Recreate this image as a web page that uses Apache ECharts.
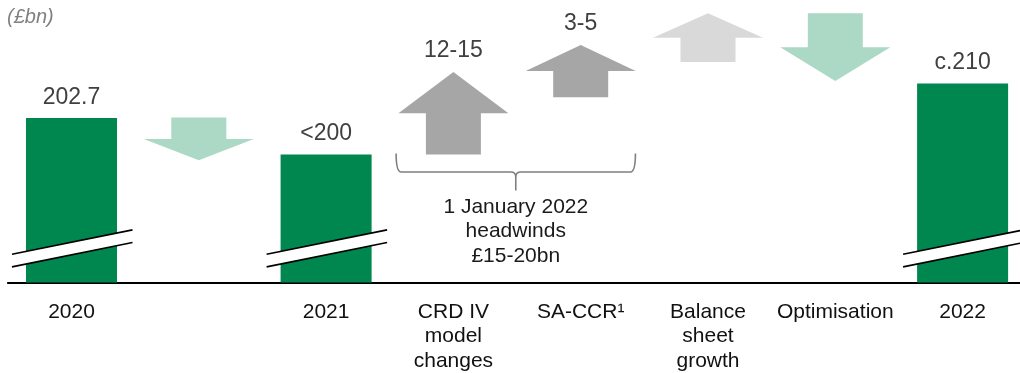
<!DOCTYPE html>
<html>
<head>
<meta charset="utf-8">
<script src="https://cdn.jsdelivr.net/npm/echarts@6/dist/echarts.min.js"></script>
<style>
  html, body { margin: 0; padding: 0; background: #ffffff; overflow: hidden; }
  #chart { width: 1030px; height: 373px; }
</style>
</head>
<body>
<div id="chart"></div>
<script>
// RWA bridge, £bn
const categories = ['2020', '', '2021', 'CRD IV\nmodel\nchanges', 'SA-CCR¹', 'Balance\nsheet\ngrowth', 'Optimisation', '2022'];
const totals = [202.7, null, 195, null, null, null, null, 210];
const totalLabels = ['202.7', '', '<200', '', '', '', '', 'c.210'];

// movements between totals: category index, start level, end level
const moveCats = [1, 3, 4, 5, 6];
const moveFrom = [202.8, 195.0, 207.1, 214.5, 224.8];
const moveTo = [193.8, 212.4, 218.1, 224.8, 210.5];
const moveLabels = ['', '12-15', '3-5', '', ''];

// broken-axis markers on the total bars
const breakCats = [0, 2, 7];
const breakLevel = 175.2;

// bracket over the 1 January 2022 items
const headwindCats = [3, 4];
const headwindLevel = 195.2;
const headwindText = '1 January 2022\nheadwinds\n£15-20bn';

// ---- styling ----
const FONT = '"Liberation Sans", Arial, sans-serif';
const GREEN = '#00874f';
const moveColors = ['#acd9c5', '#a6a6a6', '#a6a6a6', '#d9d9d9', '#acd9c5'];

const chart = echarts.init(document.getElementById('chart'), null, { renderer: 'canvas' });

function arrowItem(params, api) {
  const cat = api.value(0);
  const p0 = api.coord([cat, api.value(1)]);
  const p1 = api.coord([cat, api.value(2)]);
  const band = api.size([1, 0])[0];
  const headHalf = band * 0.432;
  const shaftHalf = band * 0.216;
  const cx = p0[0];
  const shoulder = p0[1] + (p1[1] - p0[1]) * 0.5;
  const pts = [
    [cx - shaftHalf, p0[1]], [cx + shaftHalf, p0[1]],
    [cx + shaftHalf, shoulder], [cx + headHalf, shoulder],
    [cx, p1[1]],
    [cx - headHalf, shoulder], [cx - shaftHalf, shoulder]
  ];
  const children = [{
    type: 'polygon',
    shape: { points: pts },
    style: { fill: moveColors[params.dataIndex] }
  }];
  const label = moveLabels[params.dataIndex];
  if (label) {
    children.push({
      type: 'text',
      x: cx,
      y: p1[1] - 21,
      style: {
        text: label, fill: '#404040', font: '23px ' + FONT,
        align: 'center', verticalAlign: 'middle'
      }
    });
  }
  return { type: 'group', children };
}

function breakItem(params, api) {
  const c = api.coord([api.value(0), api.value(1)]);
  const l = c[0] - 59.5, r = c[0] + 61;
  const rise = 12.2, gap = 6.3;
  const y = c[1];
  return {
    type: 'group',
    children: [
      {
        type: 'polygon',
        shape: { points: [[l, y + rise - gap], [r, y - rise - gap], [r, y - rise + gap], [l, y + rise + gap]] },
        style: { fill: '#ffffff' }
      },
      {
        type: 'line',
        shape: { x1: l, y1: y + rise - gap, x2: r, y2: y - rise - gap },
        style: { stroke: '#000000', lineWidth: 1.6 }
      },
      {
        type: 'line',
        shape: { x1: l, y1: y + rise + gap, x2: r, y2: y - rise + gap },
        style: { stroke: '#000000', lineWidth: 1.6 }
      }
    ]
  };
}

function bracketItem(params, api) {
  const a = api.coord([api.value(0), api.value(2)]);
  const b = api.coord([api.value(1), api.value(2)]);
  const band = api.size([1, 0])[0];
  const x0 = a[0] - band * 0.45;
  const x1 = b[0] + band * 0.43;
  const y0 = a[1];
  const yh = y0 + 18.5;
  const xm = (x0 + x1) / 2;
  const tip = yh + 18.5;
  const r = 5;
  const d =
    'M' + x0 + ' ' + y0 + ' Q' + x0 + ' ' + yh + ' ' + (x0 + r) + ' ' + yh +
    ' L' + (xm - r) + ' ' + yh + ' Q' + xm + ' ' + yh + ' ' + xm + ' ' + (yh + r) +
    ' L' + xm + ' ' + tip +
    ' M' + x1 + ' ' + y0 + ' Q' + x1 + ' ' + yh + ' ' + (x1 - r) + ' ' + yh +
    ' L' + (xm + r) + ' ' + yh + ' Q' + xm + ' ' + yh + ' ' + xm + ' ' + (yh + r);
  return {
    type: 'group',
    children: [
      {
        type: 'path',
        shape: { pathData: d },
        style: { stroke: '#7f7f7f', lineWidth: 1.6, fill: null }
      },
      {
        type: 'text',
        x: xm,
        y: tip + 4,
        style: {
          text: headwindText, fill: '#1a1a1a', font: '21px ' + FONT,
          align: 'center', verticalAlign: 'top', lineHeight: 24.5
        }
      }
    ]
  };
}

chart.setOption({
  animation: false,
  backgroundColor: '#ffffff',
  textStyle: { fontFamily: FONT },
  graphic: [{
    type: 'text', left: 7, top: 7,
    style: { text: '(£bn)', fill: '#808080', font: 'italic 20px ' + FONT }
  }],
  grid: { left: 7.85, top: 0, width: 1018.4, bottom: 87.5, containLabel: false },
  xAxis: {
    type: 'category',
    data: categories,
    axisLine: { show: true, lineStyle: { color: '#000000', width: 2 } },
    axisTick: { show: false },
    axisLabel: {
      interval: 0, margin: 17, color: '#111111',
      fontSize: 21, lineHeight: 24.5, fontFamily: FONT
    },
    splitLine: { show: false }
  },
  yAxis: {
    type: 'value', min: 168, max: 227.6, show: false,
    splitLine: { show: false }
  },
  series: [
    {
      type: 'bar',
      data: totals,
      barWidth: '71.5%',
      itemStyle: { color: GREEN },
      label: {
        show: true, position: 'top', distance: 9,
        color: '#404040', fontSize: 23, fontFamily: FONT,
        formatter: p => totalLabels[p.dataIndex]
      },
      z: 2
    },
    {
      type: 'custom',
      renderItem: arrowItem,
      data: moveCats.map((c, i) => [c, moveFrom[i], moveTo[i]]),
      encode: { x: 0, y: [1, 2] },
      z: 3
    },
    {
      type: 'custom',
      renderItem: breakItem,
      data: breakCats.map(c => [c, breakLevel]),
      encode: { x: 0, y: 1 },
      z: 4
    },
    {
      type: 'custom',
      renderItem: bracketItem,
      data: [[headwindCats[0], headwindCats[1], headwindLevel]],
      encode: { x: [0, 1], y: 2 },
      z: 4
    }
  ]
});
</script>
</body>
</html>
